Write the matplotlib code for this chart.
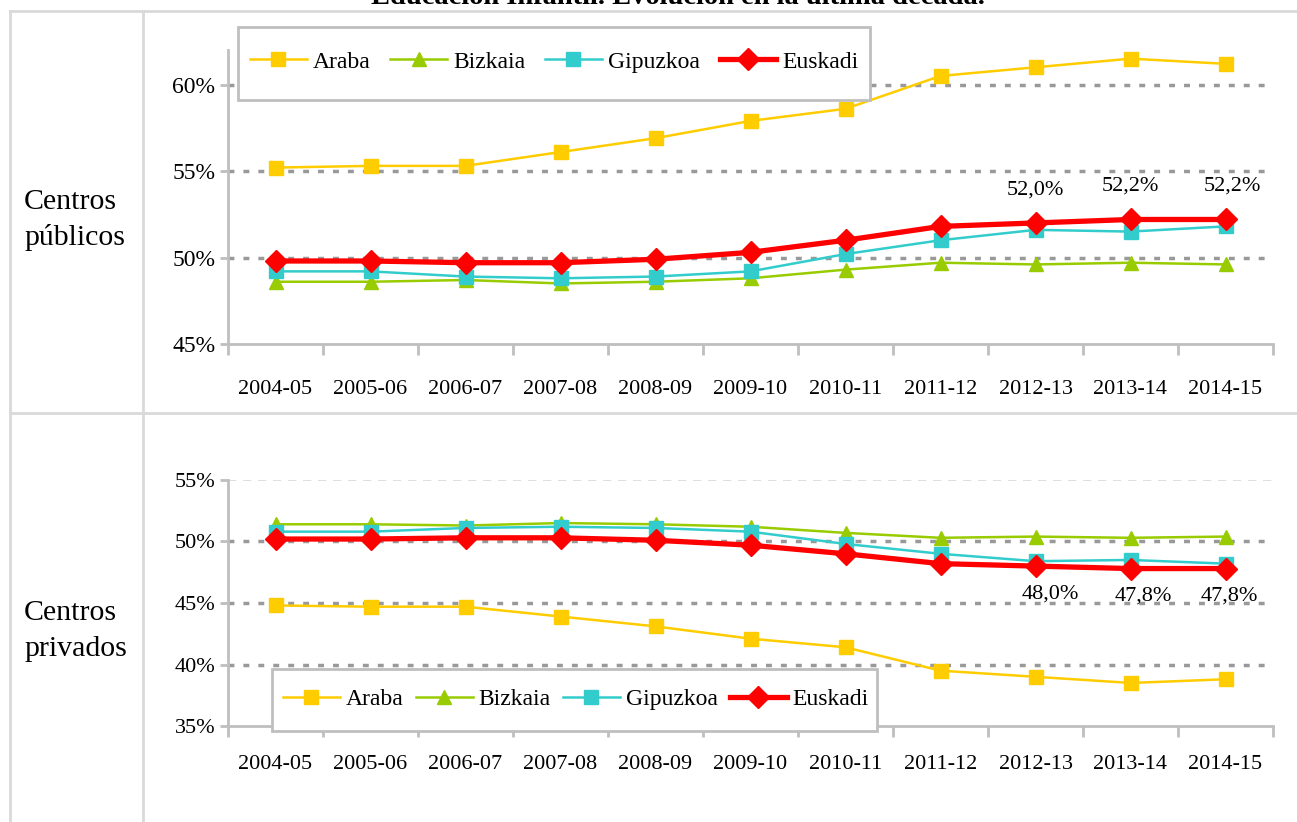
import matplotlib
matplotlib.use("Agg")
import matplotlib.pyplot as plt
from matplotlib.lines import Line2D
from matplotlib.patches import Rectangle

years = ["2004-05", "2005-06", "2006-07", "2007-08", "2008-09", "2009-10",
         "2010-11", "2011-12", "2012-13", "2013-14", "2014-15"]
series = ["Araba", "Bizkaia", "Gipuzkoa", "Euskadi"]

pub_araba = [55.2, 55.3, 55.3, 56.1, 56.9, 57.9, 58.6, 60.5, 61.0, 61.5, 61.2]
pub_bizkaia = [48.6, 48.6, 48.7, 48.5, 48.6, 48.8, 49.3, 49.7, 49.6, 49.7, 49.6]
pub_gipuzkoa = [49.2, 49.2, 48.9, 48.8, 48.9, 49.2, 50.2, 51.0, 51.6, 51.5, 51.8]
pub_euskadi = [49.8, 49.8, 49.7, 49.7, 49.9, 50.3, 51.0, 51.8, 52.0, 52.2, 52.2]

priv_araba = [44.8, 44.7, 44.7, 43.9, 43.1, 42.1, 41.4, 39.5, 39.0, 38.5, 38.8]
priv_bizkaia = [51.4, 51.4, 51.3, 51.5, 51.4, 51.2, 50.7, 50.3, 50.4, 50.3, 50.4]
priv_gipuzkoa = [50.8, 50.8, 51.1, 51.2, 51.1, 50.8, 49.8, 49.0, 48.4, 48.5, 48.2]
priv_euskadi = [50.2, 50.2, 50.3, 50.3, 50.1, 49.7, 49.0, 48.2, 48.0, 47.8, 47.8]

pub_labels = ["52,0%", "52,2%", "52,2%"]
priv_labels = ["48,0%", "47,8%", "47,8%"]

colors = {"Araba": "#FFCC00", "Bizkaia": "#99CC00", "Gipuzkoa": "#33CCCC", "Euskadi": "#FF0000"}
markers = {"Araba": "s", "Bizkaia": "^", "Gipuzkoa": "s", "Euskadi": "D"}
lws = {"Araba": 1.8, "Bizkaia": 1.8, "Gipuzkoa": 1.8, "Euskadi": 3.8}
msz = {"Araba": 10, "Bizkaia": 10, "Gipuzkoa": 10, "Euskadi": 11}

FONT = "Liberation Serif"
plt.rcParams["font.family"] = [FONT, "DejaVu Serif"]

W, H = 1297, 822
fig = plt.figure(figsize=(W / 100, H / 100), dpi=100)

def fx(px):
    return px / W

def fy(py):
    return 1 - py / H

# table lines
lc = "#D9D9D9"
fig.add_artist(Line2D([fx(10), 1], [fy(11), fy(11)], color=lc, lw=2, transform=fig.transFigure))
fig.add_artist(Line2D([fx(10), 1], [fy(413), fy(413)], color=lc, lw=2, transform=fig.transFigure))
fig.add_artist(Line2D([fx(10), fx(10)], [fy(11), 0], color=lc, lw=2, transform=fig.transFigure))
fig.add_artist(Line2D([fx(143), fx(143)], [fy(11), 0], color=lc, lw=2, transform=fig.transFigure))

fig.text(fx(678), fy(4), "Educación Infantil. Evolución en la última década.", ha="center",
         va="baseline", fontsize=20.5, fontweight="bold")

fig.text(fx(24), fy(209), "Centros", fontsize=21.5, va="baseline")
fig.text(fx(24), fy(245), "públicos", fontsize=21.5, va="baseline")
fig.text(fx(24), fy(620), "Centros", fontsize=21.5, va="baseline")
fig.text(fx(24), fy(656), "privados", fontsize=21.5, va="baseline")


def make_panel(rect, data, ylim, yticks, grid_vals, light_grid, labels, label_above,
               label_dx, tick_fs, ytick_fs, label_pad, box, leg_x, leg_y, leg_colsp):
    ax = fig.add_axes(rect)
    x = list(range(len(years)))
    for g in grid_vals:
        ax.axhline(g, color="#999999", lw=2.5, ls=(0, (1.7, 2.6)), zorder=1)
    for g in light_grid:
        ax.axhline(g, color="#D9D9D9", lw=1.2, ls=(0, (5, 4)), zorder=1)
    handles = []
    for name, vals in zip(series, data):
        h, = ax.plot(x, vals, color=colors[name], marker=markers[name], lw=lws[name],
                     ms=msz[name], zorder=3, label=name)
        handles.append(h)
    eus = data[3]
    for i, lab, dx in zip(range(len(years) - 3, len(years)), labels, label_dx):
        if label_above:
            ax.annotate(lab, (i, eus[i]), xytext=(dx, 17), textcoords="offset points",
                        ha="center", va="bottom", fontsize=tick_fs)
        else:
            ax.annotate(lab, (i, eus[i]), xytext=(dx, -13), textcoords="offset points",
                        ha="center", va="top", fontsize=tick_fs)
    ax.set_xlim(-0.5, len(years) - 0.5)
    ax.set_ylim(*ylim)
    ax.set_yticks(yticks)
    ax.set_yticklabels([f"{v}%" for v in yticks], fontsize=ytick_fs)
    ax.set_xticks([i - 0.5 for i in range(len(years) + 1)])
    ax.set_xticklabels([])
    ax.set_xticks(x, minor=True)
    ax.set_xticklabels(years, minor=True, fontsize=tick_fs)
    ax.tick_params(axis="x", which="major", length=8, width=2, color="#BFBFBF", direction="out")
    ax.tick_params(axis="x", which="minor", length=0, pad=label_pad)
    ax.tick_params(axis="y", length=6, width=2, color="#BFBFBF", pad=3)
    for s in ["top", "right"]:
        ax.spines[s].set_visible(False)
    for s in ["left", "bottom"]:
        ax.spines[s].set_color("#BFBFBF")
        ax.spines[s].set_linewidth(2)
    ax.patch.set_alpha(0)
    # legend frame
    x0, y0, x1, y1 = box
    fig.add_artist(Rectangle((fx(x0), fy(y1)), fx(x1) - fx(x0), fy(y0) - fy(y1),
                             transform=fig.transFigure, facecolor="white",
                             edgecolor="#BFBFBF", lw=2, zorder=4))
    leg = fig.legend(handles=handles, loc="center left", bbox_to_anchor=(fx(leg_x), fy(leg_y)),
                     ncol=4, fontsize=17, frameon=False,
                     handlelength=2.4, handletextpad=0.25, columnspacing=leg_colsp,
                     borderpad=0, borderaxespad=0)
    leg.set_zorder(5)
    return ax


make_panel([fx(228), fy(344), fx(1273) - fx(228), fy(50) - fy(344)],
           [pub_araba, pub_bizkaia, pub_gipuzkoa, pub_euskadi],
           (45, 62), [45, 50, 55, 60], [50, 55, 60], [], pub_labels, True, [0, 0, 5],
           16, 17, 26, (238, 27, 870, 100), 250, 62, 0.85)

make_panel([fx(228), fy(726), fx(1273) - fx(228), fy(480) - fy(726)],
           [priv_araba, priv_bizkaia, priv_gipuzkoa, priv_euskadi],
           (35, 55), [35, 40, 45, 50, 55], [40, 45, 50], [55], priv_labels, False, [11, 9, 3],
           16, 16, 21, (272, 669, 877, 731), 283, 699, 0.53)

fig.savefig("out.png", dpi=100)
